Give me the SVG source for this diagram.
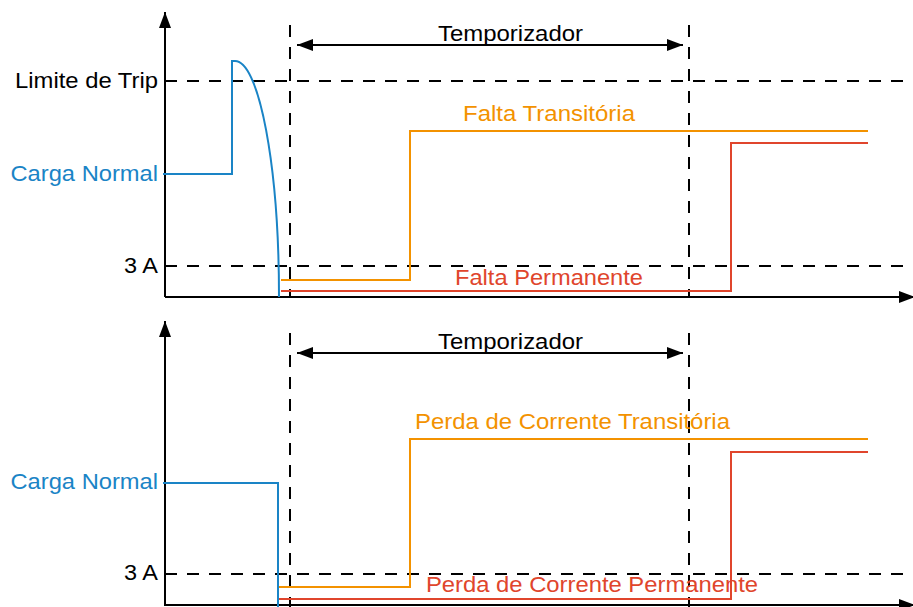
<svg xmlns="http://www.w3.org/2000/svg" width="913" height="607" viewBox="0 0 913 607">
<defs>
<style>
text{font-family:"Liberation Sans",Arial,sans-serif;font-size:22px}
.ax{stroke:#000;stroke-width:2;fill:none}
.dash{stroke:#000;stroke-width:2;fill:none;stroke-dasharray:12 10}
.blue{stroke:#1a84c6;stroke-width:2;fill:none}
.orange{stroke:#f39200;stroke-width:2;fill:none}
.red{stroke:#e0452c;stroke-width:2;fill:none}
.tb{fill:#000}
.tbl{fill:#1a84c6}
.tor{fill:#f39200}
.tre{fill:#e0452c}
</style>
<marker id="ah" viewBox="0 0 16 12" refX="16" refY="6" markerWidth="16" markerHeight="12" markerUnits="userSpaceOnUse" orient="auto-start-reverse">
<path d="M0,0 L16,6 L0,12 Z" fill="#000"/>
</marker>
</defs>
<rect width="913" height="607" fill="#fff"/>
<g id="top-panel">
<g id="top-axes">
<line class="ax" x1="165" y1="297" x2="165" y2="12" marker-end="url(#ah)"/>
<line class="ax" x1="165" y1="297" x2="915" y2="297" marker-end="url(#ah)"/>
</g>
<g id="top-guides">
<line class="dash" x1="165" y1="81" x2="903" y2="81"/>
<line class="dash" x1="165" y1="266" x2="903" y2="266"/>
<line class="dash" x1="290" y1="25" x2="290" y2="297"/>
<line class="dash" x1="689" y1="25" x2="689" y2="297"/>
</g>
<g id="top-timer">
<line class="ax" x1="297" y1="45" x2="683" y2="45" marker-start="url(#ah)" marker-end="url(#ah)"/>
<text class="tb" x="438" y="41" textLength="145" lengthAdjust="spacingAndGlyphs">Temporizador</text>
</g>
<g id="top-labels">
<text class="tb" x="15" y="88" textLength="143" lengthAdjust="spacingAndGlyphs">Limite de Trip</text>
<text class="tbl" x="10.5" y="181" textLength="147.5" lengthAdjust="spacingAndGlyphs">Carga Normal</text>
<text class="tb" x="124" y="273" textLength="34" lengthAdjust="spacingAndGlyphs">3 A</text>
</g>
<g id="top-normal">
<path class="blue" d="M163,174 H232 V61 H235 A44,236 0 0 1 279,297"/>
</g>
<g id="top-transitoria">
<path class="orange" d="M281,280 H410 V131 H868"/>
<text class="tor" x="463" y="121" textLength="172" lengthAdjust="spacingAndGlyphs">Falta Transitória</text>
</g>
<g id="top-permanente">
<path class="red" d="M281,291 H731 V143 H868"/>
<text class="tre" x="455" y="285" textLength="188" lengthAdjust="spacingAndGlyphs">Falta Permanente</text>
</g>
</g>
<g id="bottom-panel">
<g id="bottom-axes">
<line class="ax" x1="165" y1="606" x2="165" y2="321" marker-end="url(#ah)"/>
<line class="ax" x1="165" y1="605" x2="915" y2="605" marker-end="url(#ah)"/>
</g>
<g id="bottom-guides">
<line class="dash" x1="165" y1="574" x2="903" y2="574"/>
<line class="dash" x1="290" y1="333" x2="290" y2="607"/>
<line class="dash" x1="689" y1="333" x2="689" y2="607"/>
</g>
<g id="bottom-timer">
<line class="ax" x1="297" y1="353" x2="683" y2="353" marker-start="url(#ah)" marker-end="url(#ah)"/>
<text class="tb" x="438" y="349" textLength="145" lengthAdjust="spacingAndGlyphs">Temporizador</text>
</g>
<g id="bottom-labels">
<text class="tbl" x="10.5" y="489" textLength="147.5" lengthAdjust="spacingAndGlyphs">Carga Normal</text>
<text class="tb" x="124" y="580" textLength="34" lengthAdjust="spacingAndGlyphs">3 A</text>
</g>
<g id="bottom-normal">
<path class="blue" d="M163,483 H278 V607"/>
</g>
<g id="bottom-transitoria">
<path class="orange" d="M279,587 H410 V439 H868"/>
<text class="tor" x="415" y="429" textLength="315" lengthAdjust="spacingAndGlyphs">Perda de Corrente Transitória</text>
</g>
<g id="bottom-permanente">
<path class="red" d="M279,599 H731 V452 H868"/>
<text class="tre" x="426" y="592" textLength="332" lengthAdjust="spacingAndGlyphs">Perda de Corrente Permanente</text>
</g>
</g>
</svg>
